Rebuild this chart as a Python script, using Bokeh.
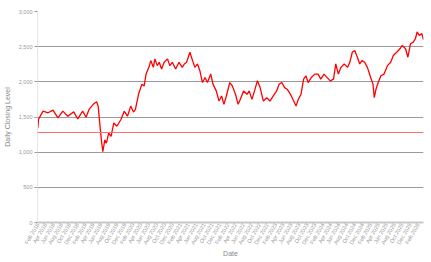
import math
import pandas as pd
from bokeh.plotting import figure
from bokeh.models import (Range1d, FixedTicker, DatetimeTickFormatter,
                          NumeralTickFormatter, Span)
from bokeh.embed import file_html
from bokeh.resources import INLINE

dates = [
    "2018-02-01", "2018-02-07", "2018-03-14", "2018-04-21", "2018-05-29", "2018-07-06",
    "2018-08-13", "2018-09-20", "2018-11-04", "2018-12-05", "2019-01-12", "2019-02-07",
    "2019-03-02", "2019-04-03", "2019-04-29", "2019-05-11", "2019-05-24", "2019-06-06",
    "2019-06-16", "2019-07-01", "2019-07-13", "2019-07-31", "2019-08-18", "2019-09-08",
    "2019-10-02", "2019-11-02", "2019-11-27", "2019-12-22", "2020-01-16", "2020-02-06",
    "2020-02-21", "2020-03-16", "2020-04-11", "2020-04-28", "2020-05-13", "2020-06-08",
    "2020-06-18", "2020-07-08", "2020-07-20", "2020-08-07", "2020-08-22", "2020-09-09",
    "2020-09-29", "2020-10-25", "2020-11-11", "2020-12-01", "2020-12-26", "2021-01-21",
    "2021-02-15", "2021-03-03", "2021-03-20", "2021-04-15", "2021-05-05", "2021-05-23",
    "2021-06-12", "2021-06-30", "2021-07-20", "2021-08-09", "2021-08-27", "2021-09-22",
    "2021-10-09", "2021-11-03", "2021-11-24", "2021-12-14", "2022-01-01", "2022-01-16",
    "2022-02-15", "2022-03-06", "2022-03-31", "2022-04-20", "2022-05-07", "2022-06-01",
    "2022-06-27", "2022-07-14", "2022-08-04", "2022-08-24", "2022-09-15", "2022-10-06",
    "2022-10-31", "2022-11-26", "2022-12-21", "2023-01-15", "2023-02-10", "2023-03-01",
    "2023-03-22", "2023-04-12", "2023-05-02", "2023-05-27", "2023-06-21", "2023-07-09",
    "2023-07-26", "2023-08-16", "2023-09-05", "2023-09-23", "2023-10-10", "2023-11-04",
    "2023-11-30", "2023-12-25", "2024-01-15", "2024-02-09", "2024-03-27", "2024-04-22",
    "2024-05-09", "2024-05-29", "2024-06-18", "2024-07-13", "2024-08-08", "2024-08-25",
    "2024-09-13", "2024-10-02", "2024-10-22", "2024-11-09", "2024-11-27", "2024-12-17",
    "2025-01-07", "2025-02-01", "2025-02-19", "2025-03-01", "2025-03-14", "2025-03-31",
    "2025-04-21", "2025-05-15", "2025-06-10", "2025-07-05", "2025-07-25", "2025-08-20",
    "2025-09-14", "2025-10-02", "2025-10-27", "2025-11-14", "2025-12-04", "2025-12-25",
    "2026-01-11", "2026-01-24", "2026-02-10", "2026-03-01", "2026-03-13",
]

closing_level = [
    1340, 1470, 1583, 1560, 1598, 1487,
    1583, 1511, 1573, 1472, 1583, 1497,
    1608, 1680, 1717, 1655, 1392, 1152,
    1008, 1176, 1128, 1272, 1224, 1415,
    1368, 1464, 1583, 1511, 1655, 1570,
    1608, 1823, 1967, 1940, 2110, 2230,
    2302, 2206, 2326, 2230, 2278, 2183,
    2278, 2326, 2230, 2278, 2183, 2278,
    2206, 2254, 2278, 2421, 2302, 2206,
    2254, 2158, 1990, 2062, 1990, 2110,
    1967, 1871, 1727, 1799, 1680, 1774,
    1990, 1943, 1823, 1680, 1751, 1871,
    1823, 1871, 1751, 1871, 2014, 1918,
    1727, 1774, 1727, 1799, 1871, 1967,
    1990, 1918, 1895, 1823, 1727, 1655,
    1751, 1823, 2038, 2086, 1990, 2062,
    2110, 2110, 2038, 2110, 2014, 2038,
    2254, 2110, 2206, 2254, 2206, 2278,
    2421, 2445, 2350, 2254, 2302, 2278,
    2206, 2062, 1967, 1774, 1895, 1990,
    2086, 2110, 2230, 2278, 2374, 2421,
    2470, 2517, 2470, 2350, 2541, 2565,
    2613, 2709, 2661, 2685, 2600,
]

reference_level = 1280

y_ticks = [0, 500, 1000, 1500, 2000, 2500, 3000]
x_tick_dates = pd.date_range("2018-02-01", "2026-02-01", freq="2MS")

x = pd.to_datetime(dates)

p = figure(width=431, height=262, x_axis_type="datetime",
           output_backend="svg", toolbar_location=None,
           x_range=Range1d(pd.Timestamp("2018-01-30"), pd.Timestamp("2026-03-14")),
           y_range=Range1d(0, 3000),
           min_border_left=30, min_border_right=8,
           min_border_top=11, min_border_bottom=40)
p.outline_line_color = None
p.background_fill_color = "white"

p.line(x, closing_level, line_color="#ff0000", line_width=1.3)

p.add_layout(Span(location=reference_level, dimension="width",
                  line_color="#ff6a6a", line_width=1))

font = "Liberation Sans"
# y axis
yax = p.yaxis[0]
yax.ticker = FixedTicker(ticks=y_ticks)
yax.formatter = NumeralTickFormatter(format="0,0")
yax.axis_label = "Daily Closing Level"
yax.axis_label_text_font = font
yax.axis_label_text_font_size = "7px"
yax.axis_label_text_font_style = "normal"
yax.axis_label_text_color = "#888888"
yax.axis_label_standoff = 5
yax.major_label_text_font = font
yax.major_label_text_font_size = "5.5px"
yax.major_label_text_color = "#999999"
yax.major_label_standoff = 2
yax.axis_line_color = "#e6e6e6"
yax.major_tick_line_color = "#999999"
yax.major_tick_in = 0
yax.major_tick_out = 3
yax.minor_tick_line_color = None

# x axis
xax = p.xaxis[0]
xax.ticker = FixedTicker(ticks=[t.value // 10**6 for t in x_tick_dates])
fmt = "%b %Y"
xax.formatter = DatetimeTickFormatter(
    microseconds=fmt, milliseconds=fmt, seconds=fmt, minsec=fmt, minutes=fmt,
    hourmin=fmt, hours=fmt, days=fmt, months=fmt, years=fmt)
xax.major_label_orientation = math.radians(60)
xax.major_label_text_font = font
xax.major_label_text_font_size = "5.5px"
xax.major_label_text_color = "#999999"
xax.major_label_standoff = 1
xax.major_tick_out = 0
xax.major_tick_in = 0
xax.axis_label = "Date"
xax.axis_label_text_font = font
xax.axis_label_text_font_size = "7px"
xax.axis_label_text_font_style = "normal"
xax.axis_label_text_color = "#888888"
xax.axis_label_standoff = 0
xax.axis_line_color = "#c8c8c8"
xax.axis_line_width = 2
xax.major_tick_line_color = None
xax.minor_tick_line_color = None

p.xgrid.grid_line_color = None
p.ygrid.ticker = FixedTicker(ticks=y_ticks)
p.ygrid.grid_line_color = "#9a9a9a"
p.ygrid.grid_line_width = 1

open("out.html", "w").write(file_html(p, INLINE))
